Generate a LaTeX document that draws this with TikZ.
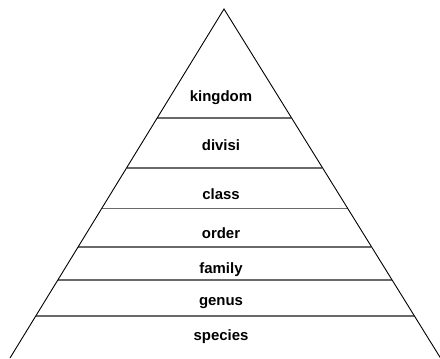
\documentclass[tikz,border=0pt]{standalone}
\usepackage{fontspec}
\setmainfont{Liberation Sans}
\usepackage{tikz}
\usetikzlibrary{calc}

\begin{document}
\begin{tikzpicture}[
  x=1bp, y=-1bp,
  side/.style={draw=black, line width=0.9bp},
  rank/.style={draw={rgb,255:red,105;green,105;blue,105}, line width=1.6bp},
  taxon/.style={font=\fontsize{15}{17}\selectfont\bfseries, anchor=base, inner sep=0pt}]
\useasboundingbox (0,0) rectangle (440,358);
\coordinate (apex) at (224,9);
\coordinate (bl) at (10,358);
\coordinate (br) at (440.5,358);
% rank separators
\foreach \yy in {117.7,167.7,208.3,246.7,280,316} {
  \pgfmathsetmacro\tt{(\yy-9)/349}
  \draw[rank] ($(apex)!\tt!(bl)$) -- ($(apex)!\tt!(br)$);
}
\draw[side] (bl) -- (apex) -- (br);
% labels
\node[taxon] (kingdom) at (221,101.7) {kingdom};
\node[taxon] (divisi)  at (221,150)   {divisi};
\node[taxon] (class)   at (221,199)   {class};
\node[taxon] (order)   at (221,238.3) {order};
\node[taxon] (family)  at (221,273.3) {family};
\node[taxon] (genus)   at (221,305)   {genus};
\node[taxon] (species) at (221,340)   {species};
\end{tikzpicture}
\end{document}
